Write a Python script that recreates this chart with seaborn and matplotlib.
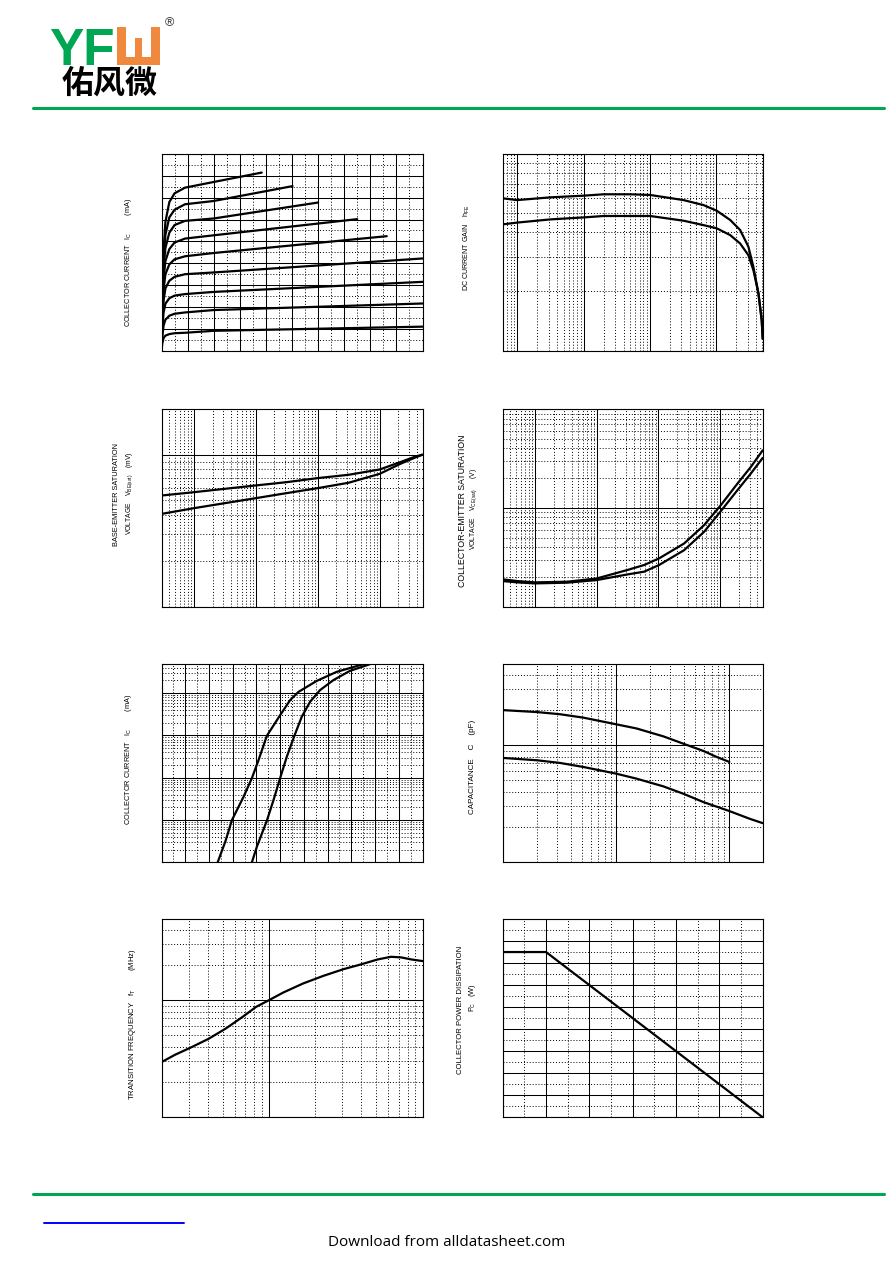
import numpy as np
import seaborn as sns
import matplotlib.pyplot as plt
from matplotlib import ticker, font_manager
from matplotlib.patches import Rectangle
from matplotlib.lines import Line2D

# ---- data ----
# Ic - Vce output characteristic (9 base current steps)
vce_knee = [0, 0.03, 0.08, 0.15, 0.3, 0.5, 0.9, 2.0]
vce_end = [3.84, 5.02, 6.0, 7.5, 8.63, 10, 10, 10, 10]
ic_steps = [
    [0, 2.2, 4.6, 5.9, 6.8, 7.2, 7.46, 7.72, 8.15],
    [0, 2.0, 4.2, 5.3, 6.1, 6.45, 6.70, 6.85, 7.53],
    [0, 1.8, 3.8, 4.7, 5.4, 5.75, 5.94, 6.05, 6.78],
    [0, 1.6, 3.3, 4.1, 4.65, 4.95, 5.13, 5.28, 6.02],
    [0, 1.4, 2.8, 3.5, 3.95, 4.18, 4.32, 4.47, 5.24],
    [0, 1.2, 2.3, 2.85, 3.2, 3.38, 3.50, 3.58, 4.22],
    [0, 0.95, 1.75, 2.15, 2.4, 2.52, 2.59, 2.69, 3.15],
    [0, 0.65, 1.15, 1.42, 1.6, 1.69, 1.75, 1.86, 2.16],
    [0, 0.33, 0.58, 0.69, 0.76, 0.8, 0.82, 0.91, 1.10],
]

# hFE - Ic
ic_hfe = [0.0608, 0.099, 0.314, 1, 2, 5.05, 10.1, 32.2, 64.4, 102, 163, 230, 307, 365, 435, 488, 505]
hfe_hi = [595, 583, 602, 614, 624, 624, 619, 583, 550, 515, 462, 411, 338, 267, 196, 143, 115]
hfe_lo = [439, 448, 465, 476, 484, 484, 484, 458, 435, 419, 387, 351, 306, 257, 196, 143, 115]

# VBE(sat) - Ic
ic_vbe = [0.03, 0.1, 1, 3.14, 10, 31.4, 100, 216, 356, 486]
vbe_hi = [539, 567, 628, 660, 702, 738, 800, 895, 965, 1000]
vbe_lo = [408, 445, 518, 559, 603, 654, 749, 872, 951, 1000]

# VCE(sat) - Ic
ic_vce = [0.03, 0.0517, 0.1, 0.334, 1.0, 3.14, 5.86, 10.25, 26.1, 55, 102.6, 191, 314, 490]
vcesat_hi = [0.0189, 0.01817, 0.01762, 0.0179, 0.0193, 0.0235, 0.0264, 0.0308, 0.0436, 0.0668, 0.1064, 0.176, 0.259, 0.382]
vcesat_lo = [0.01817, 0.01762, 0.01721, 0.0175, 0.0186, 0.0212, 0.0226, 0.0264, 0.0373, 0.0572, 0.0925, 0.151, 0.222, 0.320]

# Ic - VBE transfer
vbe_a = [0.2367, 0.2689, 0.297, 0.346, 0.381, 0.409, 0.444, 0.5, 0.542, 0.577, 0.654, 0.738, 0.85]
ic_a = [0.01, 0.0308, 0.1, 0.356, 0.98, 2.61, 9.8, 30.2, 68.4, 107, 195, 319, 484]
vbe_b = [0.381, 0.402, 0.444, 0.472, 0.5, 0.528, 0.560, 0.591, 0.626, 0.668, 0.724, 0.794, 0.878]
ic_b = [0.01, 0.0234, 0.0964, 0.296, 0.98, 3.13, 9.8, 27.6, 62.4, 118, 203, 337, 484]

# capacitance - reverse voltage
vr_hi = [0.1, 0.2, 0.32, 0.515, 1.0, 1.52, 2.62, 3.93, 5.9, 7.73, 10]
cap_hi = [19.95, 19.2, 18.4, 17.2, 15.1, 13.9, 11.9, 10.3, 8.94, 7.94, 7.2]
vr_lo = [0.1, 0.2, 0.32, 0.515, 1.0, 1.52, 2.62, 3.93, 5.9, 10, 15.2, 19.7]
cap_lo = [7.79, 7.44, 7.06, 6.52, 5.72, 5.18, 4.45, 3.85, 3.27, 2.74, 2.35, 2.16]

# fT - Ic
ic_ft = [2.0, 2.45, 3.15, 4.06, 5.23, 6.74, 8.25, 10, 12.4, 16.7, 22.7, 30.7, 39.6, 51.1, 62.5, 72.8, 84.6, 100]
ft = [29.6, 34.2, 39.8, 46.9, 57.2, 72, 87.7, 100, 116.3, 139, 161.7, 184.4, 202, 223, 235, 232, 223, 216]

# Pc - Ta derating
ta = [0, 25, 150]
pc = [0.75, 0.75, 0]

W, H = 892, 1263
GREEN = '#00a651'
ORANGE = '#f0883e'

sns.set_style("white")
available = {f.name for f in font_manager.fontManager.ttflist}
if 'Liberation Sans Narrow' in available:
    label_family, label_scale = 'Liberation Sans Narrow', 1.22
else:
    label_family, label_scale = 'Liberation Sans', 1.0
plt.rcParams['font.family'] = ['Liberation Sans', 'DejaVu Sans']
plt.rcParams['mathtext.fontset'] = 'custom'
plt.rcParams['mathtext.rm'] = label_family
plt.rcParams['mathtext.it'] = label_family
plt.rcParams['mathtext.bf'] = label_family + ':bold'

fig = plt.figure(figsize=(W / 100, H / 100), dpi=100)
fig.patch.set_facecolor('white')


def fx(x):
    return x / W


def fy(y):
    return 1 - y / H


def make_ax(x0, y0, x1, y1):
    return fig.add_axes([fx(x0), fy(y1), (x1 - x0) / W, (y1 - y0) / H])


def setup(ax, xscale, yscale, xlim, ylim, xmaj=None, ymaj=None):
    ax.set_xscale(xscale)
    ax.set_yscale(yscale)
    ax.set_xlim(*xlim)
    ax.set_ylim(*ylim)
    for axis, scale, maj in ((ax.xaxis, xscale, xmaj), (ax.yaxis, yscale, ymaj)):
        if scale == 'log':
            axis.set_major_locator(ticker.LogLocator(10, numticks=30))
            axis.set_minor_locator(ticker.LogLocator(10, subs=np.arange(2, 10), numticks=30))
        else:
            axis.set_major_locator(ticker.MultipleLocator(maj))
            axis.set_minor_locator(ticker.AutoMinorLocator(2))
    ax.grid(True, which='major', color='black', lw=0.75, ls='-')
    ax.grid(True, which='minor', color='black', lw=0.7, ls=(0, (1, 2)))
    ax.tick_params(which='both', length=0, labelbottom=False, labelleft=False)
    for s in ax.spines.values():
        s.set_visible(True)
        s.set_color('black')
        s.set_linewidth(0.8)


def curve(ax, x, y):
    sns.lineplot(x=x, y=y, ax=ax, color='black', linewidth=1.6,
                 estimator=None, sort=False, legend=False)


def ylabel(x, y, s, size):
    fig.text(fx(x), fy(y), s, rotation=90, ha='center', va='center',
             family=label_family, fontsize=size * label_scale, color='black')


LX0, LX1 = 161.5, 422.5
RX0, RX1 = 502.7, 762.7
rows = [(154, 350.7), (409, 606.7), (664, 862.3), (919, 1117.3)]

# 1. output characteristic
ax1 = make_ax(LX0, rows[0][0], LX1, rows[0][1])
setup(ax1, 'linear', 'linear', (0, 10), (0, 9), 1, 1)
for end, ic in zip(vce_end, ic_steps):
    curve(ax1, vce_knee + [end], ic)
ylabel(129, 262, 'COLLECTOR CURRENT   I$_\\mathrm{C}$' + ' ' * 9 + '(mA)', 5.25)

# 2. DC current gain
ax2 = make_ax(RX0, rows[0][0], RX1, rows[0][1])
setup(ax2, 'log', 'log', (0.06, 505), (100, 1000))
curve(ax2, ic_hfe, hfe_hi)
curve(ax2, ic_hfe, hfe_lo)
ylabel(467, 248, 'DC CURRENT GAIN    h$_\\mathrm{FE}$', 5.1)

# 3. base-emitter saturation voltage
ax3 = make_ax(LX0, rows[1][0], LX1, rows[1][1])
setup(ax3, 'log', 'log', (0.03, 490), (100, 2000))
curve(ax3, ic_vbe, vbe_hi)
curve(ax3, ic_vbe, vbe_lo)
ylabel(117, 495, 'BASE-EMITTER SATURATION', 5.35)
ylabel(130, 493, 'VOLTAGE    V$_\\mathrm{BE(sat)}$' + ' ' * 4 + '(mV)', 4.9)

# 4. collector-emitter saturation voltage
ax4 = make_ax(RX0, rows[1][0], RX1, rows[1][1])
setup(ax4, 'log', 'log', (0.03, 490), (0.01, 1))
curve(ax4, ic_vce, vcesat_hi)
curve(ax4, ic_vce, vcesat_lo)
ylabel(462, 511, 'COLLECTOR-EMITTER SATURATION', 6.3)
ylabel(474, 509, 'VOLTAGE    V$_\\mathrm{CE(sat)}$' + ' ' * 6 + '(V)', 4.9)

# 5. transfer characteristic
ax5 = make_ax(LX0, rows[2][0], LX1, rows[2][1])
setup(ax5, 'linear', 'log', (0, 1.1), (0.01, 490), xmaj=0.1)
curve(ax5, vbe_a, ic_a)
curve(ax5, vbe_b, ic_b)
ylabel(129, 759, 'COLLECTOR CURRENT   I$_\\mathrm{C}$' + ' ' * 9 + '(mA)', 5.35)

# 6. capacitance
ax6 = make_ax(RX0, rows[2][0], RX1, rows[2][1])
setup(ax6, 'log', 'log', (0.1, 19.7), (1, 49.4))
curve(ax6, vr_hi, cap_hi)
curve(ax6, vr_lo, cap_lo)
ylabel(472, 767, 'CAPACITANCE    C    (pF)', 5.75)

# 7. transition frequency
ax7 = make_ax(LX0, rows[3][0], LX1, rows[3][1])
setup(ax7, 'log', 'log', (2, 100), (10, 494))
curve(ax7, ic_ft, ft)
ylabel(133, 1024.5, 'TRANSITION FREQUENCY   f$_\\mathrm{T}$' + ' ' * 9 + '(MHz)', 5.55)

# 8. power derating
ax8 = make_ax(RX0, rows[3][0], RX1, rows[3][1])
setup(ax8, 'linear', 'linear', (0, 150), (0, 0.9), 25, 0.1)
curve(ax8, ta, pc)
ylabel(461, 1010, 'COLLECTOR POWER DISSIPATION', 5.6)
ylabel(472, 998, 'P$_\\mathrm{C}$   (W)', 5.3)

# ---- header logo ----
fig.text(fx(49), fy(65), 'YF', fontsize=37, weight='bold', color=GREEN,
         ha='left', va='baseline', family='Liberation Sans')


def box(x0, y0, x1, y1, color):
    fig.add_artist(Rectangle((fx(x0), fy(y1)), (x1 - x0) / W, (y1 - y0) / H,
                             transform=fig.transFigure, color=color, lw=0))


box(117.5, 27, 126.5, 65, ORANGE)
box(150.5, 27, 160, 65, ORANGE)
box(117.5, 56.5, 160, 65, ORANGE)
box(134.5, 38, 142, 56.5, ORANGE)
fig.text(fx(169), fy(23), '®', fontsize=9, ha='center', va='center', color='#333333')
fig.text(fx(110), fy(84), '佑风微', fontsize=23, weight='bold', ha='center', va='center',
         family=['Noto Sans CJK SC', 'DejaVu Sans'], color='black')

fig.add_artist(Line2D([fx(33), fx(884)], [fy(108), fy(108)], transform=fig.transFigure,
                      color=GREEN, lw=2.2))

# ---- footer ----
fig.add_artist(Line2D([fx(33), fx(884)], [fy(1194), fy(1194)], transform=fig.transFigure,
                      color=GREEN, lw=2.2))
fig.add_artist(Line2D([fx(44), fx(184)], [fy(1223), fy(1223)], transform=fig.transFigure,
                      color='#0000ff', lw=1.4))
fig.text(fx(447), fy(1242), 'Download from alldatasheet.com', fontsize=11,
         ha='center', va='center', family=['Open Sans', 'DejaVu Sans'], color='black')

fig.savefig('out.png', dpi=100, facecolor='white')
